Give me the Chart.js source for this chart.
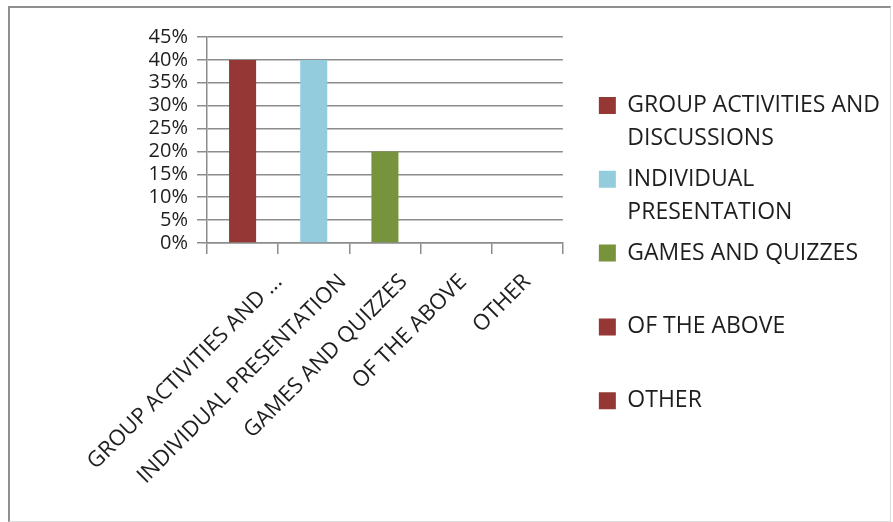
<!DOCTYPE html>
<html>
<head>
<meta charset="utf-8">
<script src="https://cdn.jsdelivr.net/npm/chart.js@4.4.0/dist/chart.umd.min.js"></script>
<style>
  body { margin: 0; background: #fff; }
  #marco {
    position: absolute; left: 8px; top: 6px;
    width: 880px; height: 513px;
    border: 1px solid #dcdcdc;
    border-left: 2px solid #8f8f8f;
    border-top: 2px solid #8f8f8f;
  }
  canvas { display: block; }
</style>
</head>
<body>
<div id="marco"><canvas id="grafico"></canvas></div>
<script>
// Datos de la encuesta
const etiquetasEje = ['GROUP ACTIVITIES AND ...', 'INDIVIDUAL PRESENTATION', 'GAMES AND QUIZZES', 'OF THE ABOVE', 'OTHER'];
const etiquetasLeyenda = [
    ['GROUP ACTIVITIES AND', 'DISCUSSIONS'],
    ['INDIVIDUAL', 'PRESENTATION'],
    ['GAMES AND QUIZZES', ''],
    ['OF THE ABOVE', ''],
    ['OTHER', '']
];
const porcentajes = [40, 40, 20, 0, 0];
const colores = ['#953735', '#93cddd', '#77933c', '#953735', '#953735'];
const marcasY = [0, 5, 10, 15, 20, 25, 30, 35, 40, 45];

const fuente = "'Open Sans', sans-serif";
const gris = '#8c8c8c';
const colorTexto = '#1e1e1e';

// Corrimiento horizontal (px) de cada etiqueta girada del eje X:
// las etiquetas largas quedan algo a la derecha de su categoría
const corrimientoEtiquetas = [36, 29, 19, 7, 0];
const ajusteEtiquetas = {
    id: 'ajusteEtiquetas',
    afterLayout(chart) {
        chart.scales.x.getLabelItems(chart.chartArea).forEach((item, i) => {
            item.options.translation[0] += corrimientoEtiquetas[i] || 0;
        });
    }
};

const ctx = document.getElementById('grafico').getContext('2d');
new Chart(ctx, {
    type: 'bar',
    data: {
        labels: etiquetasEje,
        datasets: [{
            data: porcentajes,
            backgroundColor: colores,
            barPercentage: 0.38,
            categoryPercentage: 1
        }]
    },
    plugins: [ajusteEtiquetas],
    options: {
        responsive: true,
        maintainAspectRatio: false,
        animation: false,
        layout: { padding: { top: 29, bottom: 9, left: 0, right: 0 } },
        plugins: {
            tooltip: { enabled: false },
            legend: {
                position: 'right',
                maxWidth: 400,
                labels: {
                    boxWidth: 17,
                    boxHeight: 17,
                    padding: 8,
                    color: colorTexto,
                    font: { family: fuente, size: 23, lineHeight: 1.43 },
                    // Una entrada por categoría, con el texto partido en dos líneas
                    generateLabels: () => etiquetasLeyenda.map((texto, i) => ({
                        text: texto,
                        fillStyle: colores[i],
                        strokeStyle: colores[i],
                        lineWidth: 0,
                        hidden: false,
                        index: i,
                        fontColor: colorTexto
                    }))
                }
            }
        },
        scales: {
            x: {
                grid: { drawOnChartArea: false, offset: true, tickLength: 11, color: gris, lineWidth: 1.5 },
                border: { color: gris, width: 1.5 },
                ticks: {
                    autoSkip: false,
                    minRotation: 45,
                    maxRotation: 45,
                    padding: 15,
                    color: colorTexto,
                    font: { family: fuente, size: 22 }
                },
                afterFit: (escala) => { escala.height = 269; }
            },
            y: {
                min: 0,
                max: 45,
                grid: { color: gris, lineWidth: 1.5, tickLength: 10 },
                border: { color: gris, width: 1.5 },
                ticks: {
                    autoSkip: false,
                    padding: 9,
                    color: colorTexto,
                    font: { family: fuente, size: 20, lineHeight: 1 },
                    callback: (valor) => valor + '%'
                },
                // Marcas fijas cada 5 %
                afterBuildTicks: (escala) => { escala.ticks = marcasY.map(v => ({ value: v })); },
                afterFit: (escala) => { escala.width = 197; }
            },
            // Eje vacío que separa el área del gráfico de la leyenda
            hueco: {
                position: 'right',
                grid: { display: false },
                border: { display: false },
                ticks: { display: false },
                afterFit: (escala) => { escala.width = 28; }
            }
        }
    }
});
</script>
</body>
</html>
